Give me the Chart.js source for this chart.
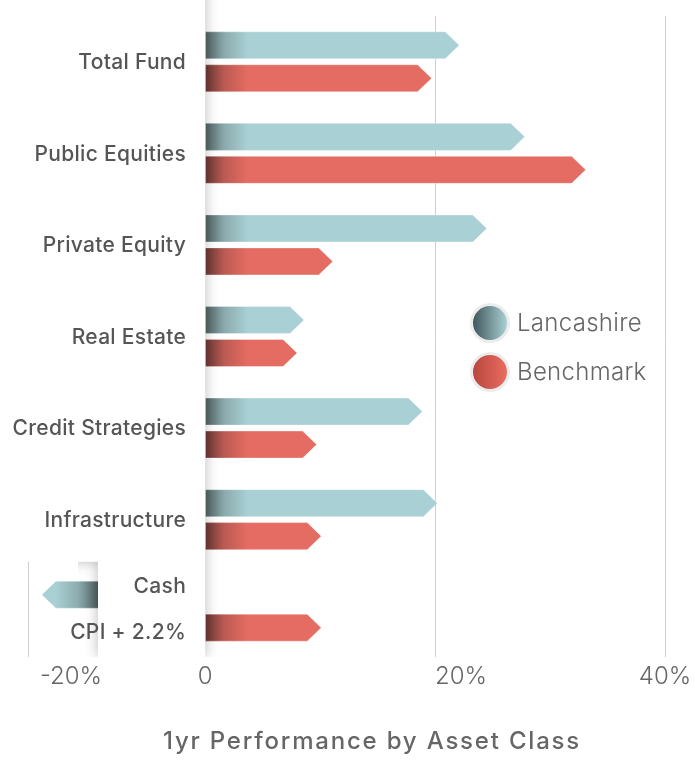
<!DOCTYPE html>
<html>
<head>
<meta charset="utf-8">
<script src="https://cdn.jsdelivr.net/npm/chart.js@4"></script>
<style>
  html, body { margin: 0; background: #fff; }
  #wrap { width: 695px; height: 763px; }
</style>
</head>
<body>
<div id="wrap"><canvas id="myChart"></canvas></div>
<script>
// data (values are where each arrow tip ends, in %)
const categories = ['Total Fund', 'Public Equities', 'Private Equity', 'Real Estate',
  'Credit Strategies', 'Infrastructure', ['Cash', 'CPI + 2.2%']];
const lancashire = [22.1, 27.8, 24.5, 8.6, 18.9, 20.2, -14.2];
const benchmark = [19.7, 33.1, 11.1, 8.0, 9.7, 10.1, 10.1];
const tickValues = [-15.4, 0, 20, 40];
const tickLabels = ['-20%', '0', '20%', '40%'];
const chartTitle = '1yr Performance by Asset Class';

const TEXT = '#555';
const headLen = 14;      // arrow head length
const panelInset = 107;  // width of the white label box over the last row
const tickNudge = [12, 0, 0, 0];
const tickAlign = ['left', 'center', 'left', 'center'];

function arrowPath(ctx, base, tip, y, h) {
  const dir = tip >= base ? 1 : -1;
  const neck = Math.abs(tip - base) > headLen ? tip - dir * headLen : base;
  ctx.beginPath();
  ctx.moveTo(base, y - h / 2);
  ctx.lineTo(neck, y - h / 2);
  ctx.lineTo(tip, y);
  ctx.lineTo(neck, y + h / 2);
  ctx.lineTo(base, y + h / 2);
  ctx.closePath();
}

// draws arrows, the white label panel and the category labels
const arrowBars = {
  id: 'arrowBars',
  beforeDatasetsDraw(chart) {
    const ctx = chart.ctx;
    const area = chart.chartArea;
    const xs = chart.scales.x, ys = chart.scales.y;
    const base = xs.getPixelForValue(0);

    chart.data.datasets.forEach((ds, di) => {
      const meta = chart.getDatasetMeta(di);
      meta.data.forEach((bar) => {
        const dir = bar.x >= bar.base ? 1 : -1;
        const edge = dir > 0 ? bar.base : bar.base - panelInset;
        ctx.save();
        arrowPath(ctx, bar.base, bar.x, bar.y, bar.height);
        ctx.fillStyle = ds.backgroundColor;
        ctx.fill();
        const g = ctx.createLinearGradient(edge, 0, edge + dir * 42, 0);
        g.addColorStop(0, 'rgba(20,20,20,0.58)');
        g.addColorStop(0.45, 'rgba(20,20,20,0.2)');
        g.addColorStop(1, 'rgba(20,20,20,0)');
        ctx.fillStyle = g;
        ctx.fill();
        ctx.strokeStyle = 'rgba(255,255,255,0.35)';
        ctx.lineWidth = 1;
        ctx.stroke();
        ctx.restore();
      });
    });

    // white label panel with soft shadow
    const n = categories.length;
    const splitY = (ys.getPixelForValue(n - 2) + ys.getPixelForValue(n - 1)) / 2 - 4;
    const panel = () => {
      ctx.beginPath();
      ctx.moveTo(-20, -20);
      ctx.lineTo(base, -20);
      ctx.lineTo(base, area.bottom);
      ctx.lineTo(base - panelInset, area.bottom);
      ctx.lineTo(base - panelInset, splitY);
      ctx.lineTo(-20, splitY);
      ctx.closePath();
    };
    ctx.save();
    ctx.beginPath();
    ctx.rect(base - panelInset - 20, 0, chart.width, area.bottom);
    ctx.clip();
    ctx.shadowColor = 'rgba(0,0,0,0.28)';
    ctx.shadowBlur = 14;
    ctx.fillStyle = '#fff';
    panel();
    ctx.fill();
    ctx.restore();
    ctx.save();
    ctx.fillStyle = '#fff';
    panel();
    ctx.fill();
    ctx.restore();

    // category labels
    ctx.save();
    ctx.font = '500 21px Inter';
    ctx.letterSpacing = '0.3px';
    ctx.fillStyle = TEXT;
    ctx.textAlign = 'right';
    ctx.textBaseline = 'middle';
    const m0 = chart.getDatasetMeta(0), m1 = chart.getDatasetMeta(1);
    categories.forEach((c, i) => {
      const lx = base - 19;
      if (Array.isArray(c)) {
        ctx.fillText(c[0], lx, m0.data[i].y - 8);
        ctx.fillText(c[1], lx, m1.data[i].y + 5);
      } else {
        ctx.fillText(c, lx, ys.getPixelForValue(i) + 1);
      }
    });
    ctx.restore();
    return false;
  },
  afterDraw(chart) {
    const ctx = chart.ctx;
    const area = chart.chartArea;
    const xs = chart.scales.x;

    // x tick labels
    ctx.save();
    ctx.font = '300 24px Inter';
    ctx.fillStyle = '#666';
    ctx.textBaseline = 'middle';
    tickValues.forEach((v, i) => {
      ctx.textAlign = tickAlign[i];
      ctx.fillText(tickLabels[i], xs.getPixelForValue(v) + tickNudge[i], area.bottom + 20);
    });
    ctx.restore();

    // legend
    const mid = (area.top + area.bottom) / 2 + 11;
    const cx = area.right - 175;
    const shades = [['#40575c', '#a9d0d4'], ['#b8463e', '#ea6c62']];
    chart.data.datasets.forEach((ds, i) => {
      const cy = mid + (i === 0 ? -24.5 : 24.5);
      ctx.save();
      ctx.beginPath();
      ctx.arc(cx, cy, 20, 0, Math.PI * 2);
      ctx.fillStyle = '#ececec';
      ctx.fill();
      const g = ctx.createLinearGradient(cx - 17, 0, cx + 17, 0);
      g.addColorStop(0, shades[i][0]);
      g.addColorStop(1, shades[i][1]);
      ctx.beginPath();
      ctx.arc(cx, cy, 17, 0, Math.PI * 2);
      ctx.fillStyle = g;
      ctx.fill();
      ctx.font = '300 24px Inter';
      ctx.letterSpacing = '0.3px';
      ctx.fillStyle = '#666';
      ctx.textAlign = 'left';
      ctx.textBaseline = 'middle';
      ctx.fillText(ds.label, cx + 27, cy + 1);
      ctx.restore();
    });

    // title
    ctx.save();
    ctx.font = '500 24px Inter';
    ctx.letterSpacing = '1.8px';
    ctx.fillStyle = '#666';
    ctx.textAlign = 'center';
    ctx.textBaseline = 'middle';
    ctx.fillText(chartTitle, 372, 742);
    ctx.restore();
  }
};

const ctx = document.getElementById('myChart').getContext('2d');
new Chart(ctx, {
  type: 'bar',
  data: {
    labels: categories,
    datasets: [
      { label: 'Lancashire', data: lancashire, backgroundColor: '#a9d0d4' },
      { label: 'Benchmark', data: benchmark, backgroundColor: '#e56c63' }
    ]
  },
  options: {
    indexAxis: 'y',
    responsive: true,
    maintainAspectRatio: false,
    animation: false,
    categoryPercentage: 0.72,
    barPercentage: 0.82,
    layout: { padding: { left: 28, right: 30, top: 16, bottom: 106 } },
    plugins: {
      legend: { display: false },
      title: { display: false },
      tooltip: { enabled: false }
    },
    scales: {
      x: {
        min: tickValues[0],
        max: tickValues[tickValues.length - 1],
        afterBuildTicks: (s) => { s.ticks = tickValues.map(v => ({ value: v })); },
        border: { display: false },
        grid: {
          color: (c) => (c.tick && c.tick.value === 0) ? 'rgba(0,0,0,0)' : '#cfcfcf',
          drawTicks: false
        },
        ticks: { display: false }
      },
      y: { display: false }
    }
  },
  plugins: [arrowBars]
});
</script>
</body>
</html>
